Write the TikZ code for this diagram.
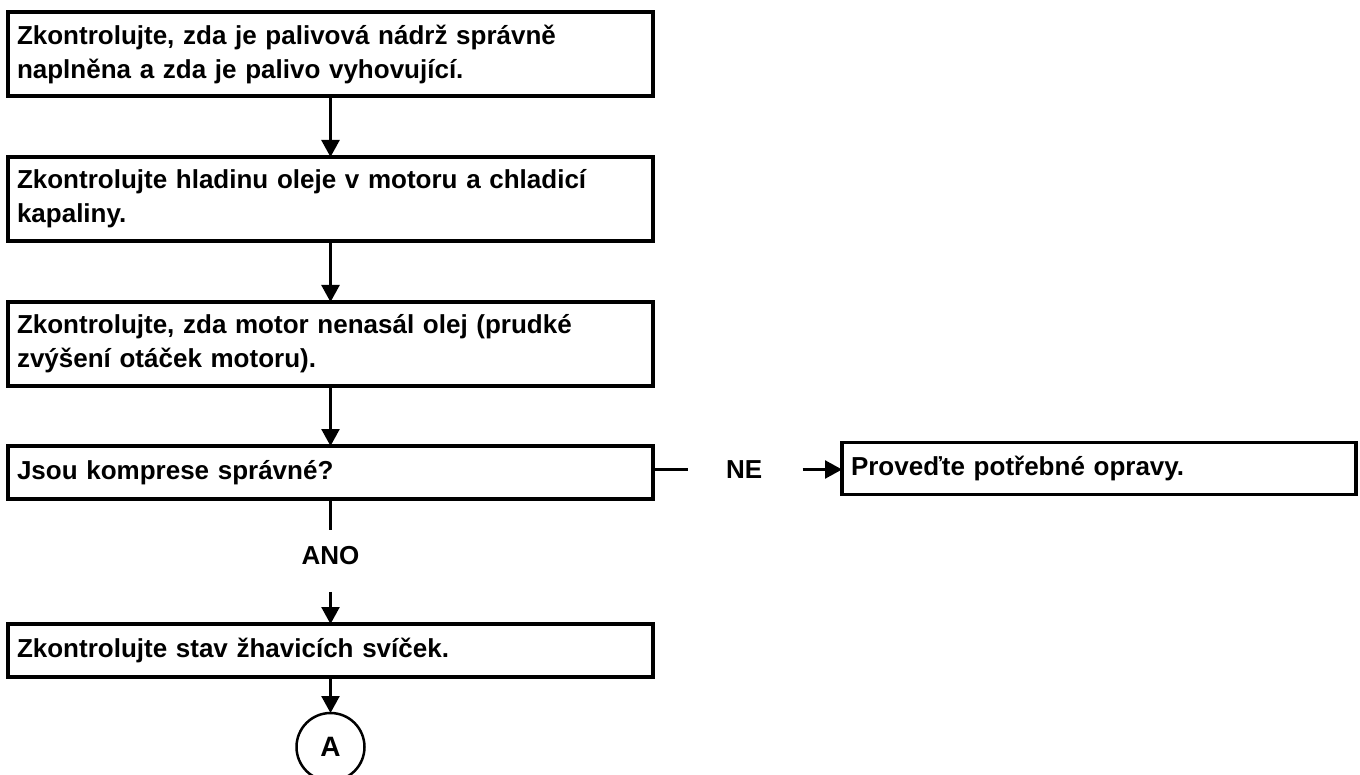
\documentclass[tikz,border=0pt]{standalone}
\usepackage{fontspec}
\setmainfont{Liberation Sans}
\usetikzlibrary{positioning, arrows.meta}

\begin{document}
\begin{tikzpicture}[
  x=1pt, y=-1pt,
  krok/.style  = {rectangle, draw, line width=3.5pt, outer sep=0pt, inner xsep=9pt, inner ysep=0pt,
                  text width=627pt, align=left, font=\fontsize{26}{34}\selectfont\bfseries},
  dvoj/.style  = {krok, minimum height=84pt},
  jedn/.style  = {krok, minimum height=53pt},
  popis/.style = {inner sep=0pt, font=\fontsize{26}{30}\selectfont\bfseries},
  spoj/.style  = {line width=2.5pt},
  >={Triangle[width=18pt, length=17pt]}
]
\path[use as bounding box, clip] (0,0) rectangle (1360,775);
% Kontroly
\node[dvoj] (k1) at (330.5,54) {Zkontrolujte, zda je palivová nádrž správně\\ naplněna a zda je palivo vyhovující.};
\node[dvoj, below=61pt of k1] (k2) {Zkontrolujte hladinu oleje v motoru a chladicí\\ kapaliny.};
\node[dvoj, below=61pt of k2] (k3) {Zkontrolujte, zda motor nenasál olej (prudké\\ zvýšení otáček motoru).};
% Rozhodnuti
\node[jedn, below=60pt of k3] (komp) {Jsou komprese správné?};
\node[popis, right=73pt of komp, yshift=3pt] (ne) {NE};
\node[jedn, right=189pt of komp, yshift=4pt, text width=496pt, minimum height=52pt] (oprava) {Proveďte potřebné opravy.};
\node[popis, below=47pt of komp] (ano) {ANO};
\node[jedn, below=125pt of komp] (svicky) {Zkontrolujte stav žhavicích svíček.};
% Navaznost
\node[circle, draw, line width=2.5pt, outer sep=0pt, minimum size=68pt, inner sep=0pt,
      font=\fontsize{28}{30}\selectfont\bfseries, below=36pt of svicky] (a) {A};
% Sipky
\draw[spoj, ->] (k1) -- (k2);
\draw[spoj, ->] (k2) -- (k3);
\draw[spoj, ->] (k3) -- (komp);
\draw[spoj] (komp.east |- ne.west) -- ([xshift=-38pt]ne.west);
\draw[spoj, ->] ([xshift=40pt]ne.east) -- (oprava.west |- ne.east);
\draw[spoj] (komp) -- ([yshift=16pt]ano.north);
\draw[spoj, ->] ([yshift=-27pt]ano.south) -- (svicky);
\draw[spoj, ->] (svicky) -- (a);
\end{tikzpicture}
\end{document}
